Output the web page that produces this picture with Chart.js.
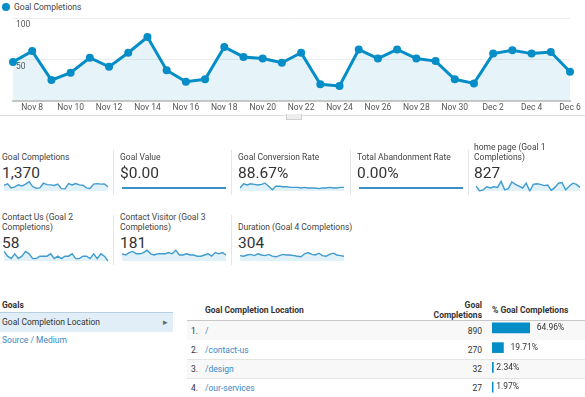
<!DOCTYPE html>
<html>
<head>
<meta charset="utf-8">
<script src="https://cdn.jsdelivr.net/npm/chart.js@4.4.1/dist/chart.umd.min.js"></script>
<style>
  body { margin: 0; width: 585px; height: 397px; overflow: hidden; background: #fff; position: relative;
         font-family: Roboto, Arial, sans-serif; color: #333; font-size: 8.5px; }
  .abs { position: absolute; white-space: nowrap; line-height: 10px; }
  .ttl { position: absolute; width: 112px; height: 22px; display: flex; align-items: flex-end;
         white-space: pre; line-height: 10px; color: #444; }
  .val { position: absolute; font-size: 15.5px; line-height: 18px; color: #333; }
  .sep { position: absolute; width: 1px; background: #e6e6e6; }
  .link { color: #3a88c2; }
  .b { font-weight: bold; color: #333; }
  canvas { position: absolute; }
</style>
</head>
<body>

<div class="abs" style="left:2px;top:3px;width:8px;height:8px;border-radius:50%;background:#058dc7"></div>
<div class="abs" style="left:14px;top:2px;color:#444">Goal Completions</div>
<canvas id="main" width="585" height="115" style="left:0;top:0"></canvas>
<div class="abs" style="left:0;top:115px;width:585px;height:1px;background:#ddd"></div>
<div class="abs" style="left:286px;top:114px;width:14px;height:5px;background:#eee;border:1px solid #d0d0d0;border-top:none"></div>

<div id="cards"></div>

<div class="abs b" style="left:2px;top:300px">Goals</div>
<div class="abs" style="left:0;top:312px;width:173px;height:19px;background:#e2eef7;border-top:1px solid #b9cfe0"></div>
<div class="abs" style="left:2px;top:317px">Goal Completion Location</div>
<div class="abs" style="left:163px;top:317px;color:#666">&#9656;</div>
<div class="abs link" style="left:2px;top:335px">Source / Medium</div>

<div class="abs b" style="left:205px;top:305px">Goal Completion Location</div>
<div class="abs b" style="left:400px;top:300px;width:82px;text-align:right">Goal<br>Completions</div>
<div class="abs b" style="left:492px;top:305px">% Goal Completions</div>
<div class="abs" style="left:187px;top:320px;width:398px;height:1px;background:#c8c8c8"></div>
<div id="rows"></div>
<canvas id="bars" width="95" height="79" style="left:490px;top:318px"></canvas>

<script>
// main chart
const dates = ['Nov 7', 'Nov 8', 'Nov 9', 'Nov 10', 'Nov 11', 'Nov 12', 'Nov 13', 'Nov 14', 'Nov 15', 'Nov 16',
               'Nov 17', 'Nov 18', 'Nov 19', 'Nov 20', 'Nov 21', 'Nov 22', 'Nov 23', 'Nov 24', 'Nov 25', 'Nov 26',
               'Nov 27', 'Nov 28', 'Nov 29', 'Nov 30', 'Dec 1', 'Dec 2', 'Dec 3', 'Dec 4', 'Dec 5', 'Dec 6'];
const goalCompletions = [47, 60, 25, 34, 52, 41, 58, 77, 37, 23, 26, 65, 53, 51, 46, 58, 20, 18, 62, 51,
                         62, 51, 48, 26, 21, 57, 61, 57, 59, 35];

// scorecards
const cardTitles = ['Goal Completions', 'Goal Value', 'Goal Conversion Rate', 'Total Abandonment Rate',
                    'home page (Goal 1\nCompletions)', 'Contact Us (Goal 2\nCompletions)',
                    'Contact Visitor (Goal 3\nCompletions)', 'Duration (Goal 4 Completions)'];
const cardValues = ['1,370', '$0.00', '88.67%', '0.00%', '827', '58', '181', '304'];
const goalValue = [0, 0, 0, 0, 0, 0, 0, 0, 0, 0, 0, 0, 0, 0, 0, 0, 0, 0, 0, 0, 0, 0, 0, 0, 0, 0, 0, 0, 0, 0];
const conversionRate = [85, 92, 90, 92, 91, 90, 91, 93, 88, 82, 88, 88, 87, 87, 86, 86, 86, 85, 86, 85,
                        85, 85, 84, 85, 85, 86, 85, 85, 86, 86];
const abandonRate = [0, 0, 0, 0, 0, 0, 0, 0, 0, 0, 0, 0, 0, 0, 0, 0, 0, 0, 0, 0, 0, 0, 0, 0, 0, 0, 0, 0, 0, 0];
const homePage = [28, 20, 22, 27, 25, 27, 26, 36, 22, 24, 35, 31, 28, 25, 33, 20, 31, 32, 31, 29,
                  30, 21, 26, 33, 34, 22, 28, 33, 31, 26];
const contactUs = [4, 2, 1, 3, 1, 2, 4, 3, 1, 1, 2, 2, 2, 3, 1, 2, 1, 2, 2, 3, 1, 1, 2, 2, 1, 3, 1, 3, 2, 0];
const contactVisitor = [6, 5, 7, 8, 6, 6, 7, 9, 6, 5, 6, 6, 6, 7, 6, 9, 5, 5, 6, 5, 5, 4, 4, 5, 6, 4, 7, 6, 7, 5];
const duration = [9, 8, 10, 11, 9, 12, 10, 9, 11, 8, 7, 9, 11, 10, 10, 9, 8, 7, 12, 14, 11, 10, 13, 9, 8, 11, 13, 10, 9, 8];
const sparks = [goalCompletions, goalValue, conversionRate, abandonRate, homePage, contactUs, contactVisitor, duration];

// table
const locations = ['/', '/contact-us', '/design', '/our-services'];
const completions = [890, 270, 32, 27];
const shares = [64.96, 19.71, 2.34, 1.97];

const blue = '#058dc7';

new Chart(document.getElementById('main'), {
    type: 'line',
    data: {
        labels: dates,
        datasets: [{
            data: goalCompletions,
            borderColor: blue,
            borderWidth: 3,
            pointRadius: 4,
            pointBackgroundColor: blue,
            pointBorderWidth: 0,
            fill: 'origin',
            backgroundColor: 'rgba(5,141,199,0.1)',
            tension: 0
        }]
    },
    options: {
        responsive: false,
        animation: false,
        layout: { padding: { top: 18, left: 7, right: 15, bottom: 0 } },
        plugins: { legend: { display: false }, tooltip: { enabled: false } },
        scales: {
            x: {
                grid: { display: false, drawTicks: false },
                border: { color: '#c8c8c8', width: 2 },
                ticks: {
                    autoSkip: false, maxRotation: 0, padding: 2,
                    color: '#555', font: { family: 'Roboto', size: 8.5 },
                    callback: (v, i) => i % 2 === 1 ? dates[i] : ''
                }
            },
            y: {
                min: 0, max: 100,
                border: { display: false },
                grid: { color: '#ececec', drawTicks: false },
                ticks: {
                    stepSize: 50, mirror: true, padding: 3, labelOffset: 7,
                    color: '#555', font: { family: 'Roboto', size: 8.5 },
                    callback: v => v === 0 ? '' : v
                }
            }
        }
    }
});

// scorecards
const cardsEl = document.getElementById('cards');
const colX = [2, 120, 238, 357, 474];
cardTitles.forEach((t, i) => {
    const x = colX[i % 5];
    const dy = i < 5 ? 0 : 70;
    cardsEl.insertAdjacentHTML('beforeend',
        `<div class="ttl" style="left:${x}px;top:${140 + dy}px">${t}</div>` +
        `<div class="val" style="left:${x}px;top:${164 + dy}px">${cardValues[i]}</div>` +
        `<canvas id="sp${i}" width="106" height="15" style="left:${x + 1}px;top:${177 + dy}px"></canvas>`);
    const flat = sparks[i].every(v => v === 0);
    new Chart(document.getElementById('sp' + i), {
        type: 'line',
        data: {
            labels: dates,
            datasets: [{
                data: sparks[i],
                borderColor: flat ? '#3d8fc8' : '#3f9bd0',
                borderWidth: flat ? 2 : 1.4,
                pointRadius: 0,
                fill: !flat,
                backgroundColor: 'rgba(5,141,199,0.12)',
                tension: 0
            }]
        },
        options: {
            responsive: false,
            animation: false,
            layout: { padding: { top: 2, bottom: flat ? 4 : 1, left: 1, right: 1 } },
            plugins: { legend: { display: false }, tooltip: { enabled: false } },
            scales: { x: { display: false }, y: { display: false, beginAtZero: flat } }
        }
    });
});
[[113, 150, 45], [231, 150, 45], [350, 150, 45], [468, 150, 45], [113, 215, 50], [231, 215, 50]].forEach(s => {
    cardsEl.insertAdjacentHTML('beforeend', `<div class="sep" style="left:${s[0]}px;top:${s[1]}px;height:${s[2]}px"></div>`);
});

// table rows
const rowsEl = document.getElementById('rows');
locations.forEach((loc, i) => {
    const top = 321 + i * 19.25;
    rowsEl.insertAdjacentHTML('beforeend',
        `<div class="abs" style="left:187px;top:${top}px;width:398px;height:18.5px;background:${i % 2 === 0 ? '#f8f8f8' : '#fff'};border-bottom:1px solid #e4e4e4"></div>` +
        `<div class="abs" style="left:191px;top:${top + 4.5}px">${i + 1}.</div>` +
        `<div class="abs link" style="left:205px;top:${top + 4.5}px">${loc}</div>` +
        `<div class="abs" style="left:430px;top:${top + 4.5}px;width:52px;text-align:right">${completions[i]}</div>`);
});

const pctLabels = {
    id: 'pctLabels',
    afterDatasetsDraw(chart) {
        const ctx = chart.ctx;
        ctx.save();
        ctx.font = '8.5px Roboto';
        ctx.fillStyle = '#333';
        ctx.textBaseline = 'middle';
        chart.getDatasetMeta(0).data.forEach((bar, i) => {
            const w = bar.x - bar.base;
            ctx.fillText(shares[i].toFixed(2) + '%', bar.x + (w > 5 ? 7 : 3), bar.y);
        });
        ctx.restore();
    }
};

new Chart(document.getElementById('bars'), {
    type: 'bar',
    data: {
        labels: locations,
        datasets: [{ data: shares, backgroundColor: blue, barThickness: 10 }]
    },
    options: {
        indexAxis: 'y',
        responsive: false,
        animation: false,
        layout: { padding: { left: 2, right: 35 } },
        plugins: { legend: { display: false }, tooltip: { enabled: false } },
        scales: { x: { display: false, min: 0, max: 100 }, y: { display: false } }
    },
    plugins: [pctLabels]
});
</script>
</body>
</html>
